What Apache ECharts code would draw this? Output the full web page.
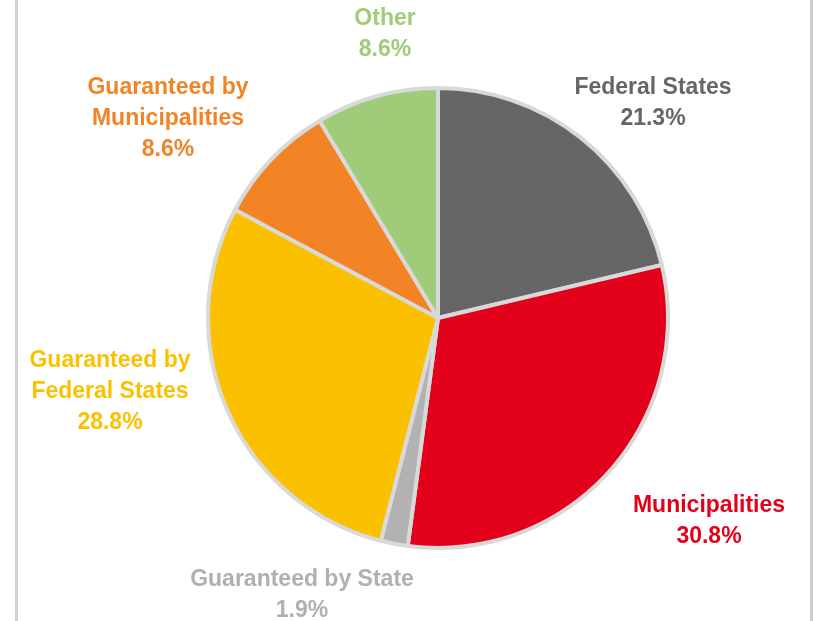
<!DOCTYPE html>
<html>
<head>
<meta charset="utf-8">
<script src="https://cdn.jsdelivr.net/npm/echarts@6/dist/echarts.min.js"></script>
<style>
  html, body { margin: 0; padding: 0; background: #fff; }
  #main { width: 815px; height: 621px; }
</style>
</head>
<body>
<div id="main"></div>
<script>
// chart data
var names = ['Federal States', 'Municipalities', 'Guaranteed by State',
             'Guaranteed by\nFederal States', 'Guaranteed by\nMunicipalities', 'Other'];
var shares = [21.3, 30.8, 1.9, 28.8, 8.6, 8.6];
var colors = ['#666666', '#e2001a', '#b2b2b2', '#fbc100', '#f28426', '#a0cb78'];
var labelColors = ['#666666', '#e2001a', '#b0b0b0', '#fbc100', '#f28426', '#a0cb78'];

// where each label sits (centre of text block)
var labelPos = [[653, 103], [709, 521], [302, 595], [110, 392], [168, 119], [385, 34]];

var chart = echarts.init(document.getElementById('main'));

var option = {
  animation: false,
  graphic: [
    { type: 'rect', shape: { x: 15, y: 0, width: 3, height: 621 }, style: { fill: '#cfcfcf' } },
    { type: 'rect', shape: { x: 810, y: 0, width: 3, height: 621 }, style: { fill: '#cfcfcf' } }
  ],
  series: [{
    type: 'pie',
    center: [438, 318],
    radius: 230,
    startAngle: 90,
    clockwise: true,
    avoidLabelOverlap: false,
    itemStyle: { borderColor: '#d9d9d9', borderWidth: 4 },
    labelLine: { show: false },
    label: {
      show: true,
      position: 'outside',
      fontFamily: 'Liberation Sans',
      fontWeight: 'bold',
      fontSize: 23,
      lineHeight: 31,
      align: 'center',
      formatter: function (p) { return p.name + '\n' + p.value.toFixed(1) + '%'; }
    },
    labelLayout: function (p) {
      var pos = labelPos[p.dataIndex];
      return { x: pos[0], y: pos[1], align: 'center', verticalAlign: 'middle', hideOverlap: false };
    },
    emphasis: { disabled: true },
    data: names.map(function (n, i) {
      return {
        name: n,
        value: shares[i],
        itemStyle: { color: colors[i] },
        label: { color: labelColors[i] }
      };
    })
  }]
};

chart.setOption(option);
</script>
</body>
</html>
